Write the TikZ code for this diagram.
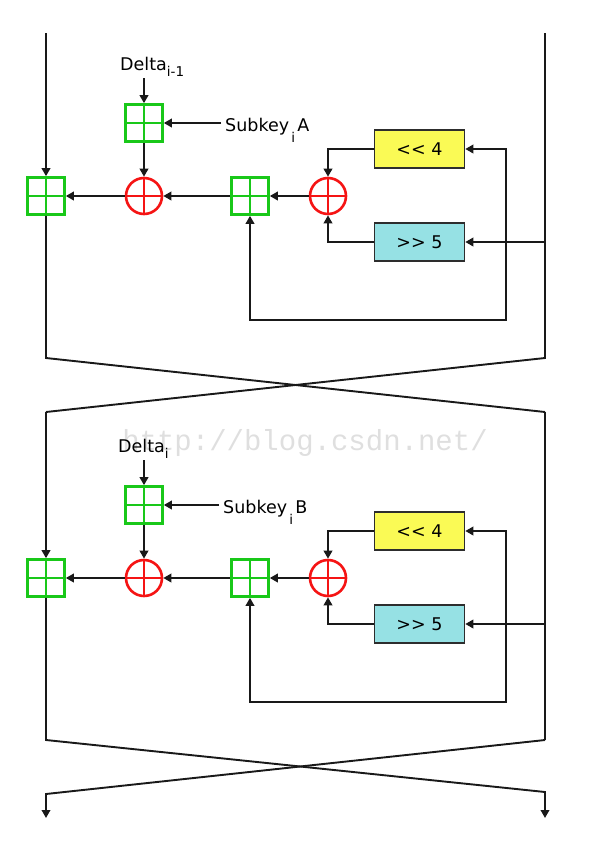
\documentclass[tikz,border=0pt]{standalone}
\usepackage{fontspec}
\setsansfont{DejaVu Sans}
\setmonofont{Liberation Mono}
\usetikzlibrary{positioning, arrows.meta, calc, backgrounds}

\definecolor{addgreen}{RGB}{25,200,25}
\definecolor{xorred}{RGB}{245,20,20}
\definecolor{shlyellow}{RGB}{250,250,85}
\definecolor{shrcyan}{RGB}{150,225,228}
\definecolor{boxgray}{RGB}{45,45,45}
\definecolor{wiregray}{RGB}{25,25,25}

\newcommand{\lowsub}[2]{\raisebox{#1}{\fontsize{13.5}{14}\selectfont #2}}

\begin{document}
\begin{tikzpicture}[
    x=1pt, y=-1pt,
    font=\sffamily\fontsize{17.5}{20}\selectfont,
    % Styles
    add_box/.style={
        draw=addgreen,
        line width=2.6pt,
        rectangle,
        minimum size=37pt,
        inner sep=0pt,
        path picture={
            \draw[addgreen, line width=2.6pt]
                (path picture bounding box.north) -- (path picture bounding box.south)
                (path picture bounding box.west) -- (path picture bounding box.east);
        }
    },
    xor_op/.style={
        draw=xorred,
        line width=2.6pt,
        circle,
        minimum size=36pt,
        inner sep=0pt,
        path picture={
            \draw[xorred, line width=2.6pt]
                (path picture bounding box.north) -- (path picture bounding box.south)
                (path picture bounding box.west) -- (path picture bounding box.east);
        }
    },
    shift_yellow/.style={
        draw=boxgray,
        line width=1.6pt,
        fill=shlyellow,
        minimum width=90pt,
        minimum height=38pt
    },
    shift_cyan/.style={
        draw=boxgray,
        line width=1.6pt,
        fill=shrcyan,
        minimum width=90pt,
        minimum height=38pt
    },
    wire/.style={draw=wiregray, line width=1.9pt},
    arrow/.style={wire, -{Stealth[length=8pt, width=8.5pt, inset=0pt]}},
    key_label/.style={inner sep=4pt},
    watermark/.style={font=\ttfamily\fontsize{29}{30}\selectfont, text=gray!25}
]

    \useasboundingbox (0,0) rectangle (593,844);

    % --- Watermark ---
    \node[watermark] (wm) at (305,443) {http://blog.csdn.net/};

    % --- ROUND 1 ---
    \node[add_box] (addL1) at (46,196) {};
    \node[xor_op] (xorL1) at (144,196) {};
    \node[add_box] (addK1) at (144,123) {};
    \node[add_box] (addM1) at (250,196) {};
    \node[xor_op] (xorR1) at (328,196) {};
    \node[shift_yellow] (shl1) at (419.5,149) {{<}{<} 4};
    \node[shift_cyan] (shr1) at (419.5,242) {{>}{>} 5};

    \node[key_label, anchor=base west] (dlt1) at (116,70) {Delta\lowsub{-6pt}{i-1}};
    \node[key_label, anchor=base west] (sub1) at (221,131) {Subkey\lowsub{-11pt}{\,i\,}A};

    \coordinate (inL1) at (46,33);
    \coordinate (inR1) at (545,33);
    \coordinate (crossL1) at (46,358);
    \coordinate (crossR1) at (545,358);
    \coordinate (outL1) at (46,412);
    \coordinate (outR1) at (545,412);
    \coordinate (loop1) at (506,320);

    \draw[arrow] (addK1.north |- 0,78) -- (addK1.north);
    \draw[arrow] (sub1.west |- addK1.east) -- (addK1.east);
    \draw[arrow] (addK1.south) -- (xorL1.north);
    \draw[arrow] (inL1) -- (addL1.north);
    \draw[arrow] (xorL1.west) -- (addL1.east);
    \draw[arrow] (addM1.west) -- (xorL1.east);
    \draw[arrow] (xorR1.west) -- (addM1.east);
    \draw[arrow] (shl1.west) -| (xorR1.north);
    \draw[arrow] (shr1.west) -| (xorR1.south);
    \draw[arrow] (inR1 |- shr1.east) -- (shr1.east);
    \draw[arrow] (loop1 |- shr1.east) -- (loop1 |- shl1.east) -- (shl1.east);
    \draw[arrow] (loop1 |- shr1.east) -- (loop1) -- (addM1.south |- loop1) -- (addM1.south);
    % Swap
    \draw[wire] (addL1.south) -- (crossL1) -- (outR1);
    \draw[wire] (inR1) -- (crossR1) -- (outL1);

    % --- ROUND 2 ---
    \node[add_box] (addL2) at (46,578) {};
    \node[xor_op] (xorL2) at (144,578) {};
    \node[add_box] (addK2) at (144,505) {};
    \node[add_box] (addM2) at (250,578) {};
    \node[xor_op] (xorR2) at (328,578) {};
    \node[shift_yellow] (shl2) at (419.5,531) {{<}{<} 4};
    \node[shift_cyan] (shr2) at (419.5,624) {{>}{>} 5};

    \node[key_label, anchor=base west] (dlt2) at (114,452) {Delta\lowsub{-6pt}{i}};
    \node[key_label, anchor=base west] (sub2) at (219,513) {Subkey\lowsub{-11pt}{\,i\,}B};

    \coordinate (crossL2) at (46,740);
    \coordinate (crossR2) at (545,740);
    \coordinate (outL2) at (46,794);
    \coordinate (outR2) at (545,792);
    \coordinate (endL) at (46,818);
    \coordinate (endR) at (545,818);
    \coordinate (loop2) at (506,702);

    \draw[arrow] (addK2.north |- 0,460) -- (addK2.north);
    \draw[arrow] (sub2.west |- addK2.east) -- (addK2.east);
    \draw[arrow] (addK2.south) -- (xorL2.north);
    \draw[arrow] (outL1) -- (addL2.north);
    \draw[arrow] (xorL2.west) -- (addL2.east);
    \draw[arrow] (addM2.west) -- (xorL2.east);
    \draw[arrow] (xorR2.west) -- (addM2.east);
    \draw[arrow] (shl2.west) -| (xorR2.north);
    \draw[arrow] (shr2.west) -| (xorR2.south);
    \draw[arrow] (outR1 |- shr2.east) -- (shr2.east);
    \draw[arrow] (loop2 |- shr2.east) -- (loop2 |- shl2.east) -- (shl2.east);
    \draw[arrow] (loop2 |- shr2.east) -- (loop2) -- (addM2.south |- loop2) -- (addM2.south);
    % Swap
    \draw[wire] (outR1) -- (crossR2);
    \draw[arrow] (addL2.south) -- (crossL2) -- (outR2) -- (endR);
    \draw[arrow] (crossR2) -- (outL2) -- (endL);

\end{tikzpicture}
\end{document}
